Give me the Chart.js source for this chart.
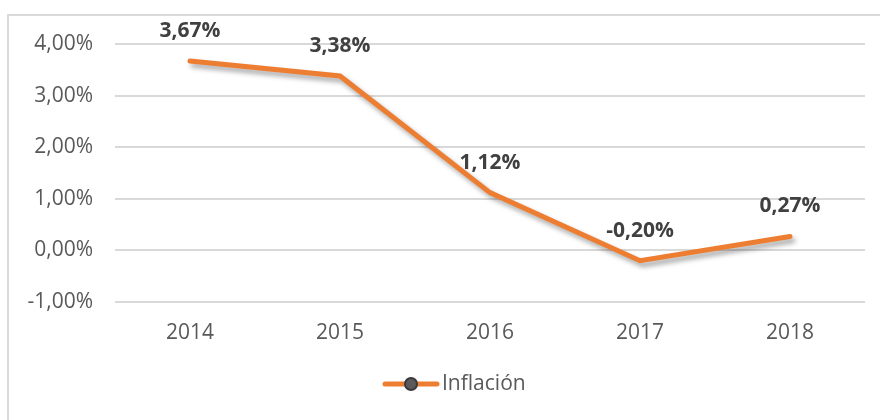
<!DOCTYPE html>
<html lang="es">
<head>
<meta charset="utf-8">
<script src="https://cdn.jsdelivr.net/npm/chart.js@4/dist/chart.umd.min.js"></script>
<style>
  html, body { margin: 0; padding: 0; background: #fff; overflow: hidden; }
  .wrap { position: relative; width: 880px; height: 420px; }
  .frame {
    position: absolute; left: 7px; top: 14px; width: 900px; height: 440px;
    border: 2px solid #d9d9d9; box-sizing: border-box; pointer-events: none;
  }
  canvas { position: absolute; left: 0; top: 0; }
</style>
</head>
<body>
<div class="wrap">
  <div class="frame"></div>
  <canvas id="chart" width="880" height="420"></canvas>
</div>
<script>
'use strict';

// ─── Data ─────────────────────────────────────────────────────────────────────

const years = ['2014', '2015', '2016', '2017', '2018'];
const inflacion = [3.67, 3.38, 1.12, -0.20, 0.27];
const seriesName = 'Inflación';

const ORANGE = '#ED7D31';
const TEXT = '#595959';
const FONT = '"Open Sans", "Liberation Sans", sans-serif';

const pctES = (v, d = 2) => v.toFixed(d).replace('.', ',') + '%';

// ─── Plugins ──────────────────────────────────────────────────────────────────

const lineShadow = {
  id: 'lineShadow',
  beforeDatasetDraw(chart) {
    const c = chart.ctx;
    c.save();
    c.shadowColor = 'rgba(0,0,0,0.35)';
    c.shadowBlur = 5;
    c.shadowOffsetX = 3;
    c.shadowOffsetY = 4;
  },
  afterDatasetDraw(chart) {
    chart.ctx.restore();
  },
};

const dataLabels = {
  id: 'dataLabels',
  afterDatasetsDraw(chart) {
    const c = chart.ctx;
    const meta = chart.getDatasetMeta(0);
    c.save();
    c.font = `bold 21px ${FONT}`;
    c.fillStyle = '#404040';
    c.textAlign = 'center';
    c.textBaseline = 'middle';
    meta.data.forEach((pt, i) => {
      c.fillText(pctES(inflacion[i]), pt.x, pt.y - 30);
    });
    c.restore();
  },
};

const legendBox = {
  id: 'legendBox',
  afterDraw(chart) {
    const c = chart.ctx;
    const y = 384;
    c.save();
    c.strokeStyle = ORANGE;
    c.lineWidth = 5;
    c.lineCap = 'round';
    c.beginPath();
    c.moveTo(385, y);
    c.lineTo(437, y);
    c.stroke();
    c.beginPath();
    c.arc(411, y, 6, 0, Math.PI * 2);
    c.fillStyle = '#5a5a5a';
    c.fill();
    c.lineWidth = 2;
    c.strokeStyle = '#3a3a3a';
    c.stroke();
    c.font = `21px ${FONT}`;
    c.fillStyle = TEXT;
    c.textAlign = 'left';
    c.textBaseline = 'middle';
    c.fillText(seriesName, 442, y);
    c.restore();
  },
};

// ─── Chart ────────────────────────────────────────────────────────────────────

new Chart(document.getElementById('chart').getContext('2d'), {
  type: 'line',
  data: {
    labels: years,
    datasets: [
      {
        label: seriesName,
        data: inflacion,
        borderColor: ORANGE,
        borderWidth: 5,
        borderCapStyle: 'round',
        borderJoinStyle: 'miter',
        pointRadius: 0,
        tension: 0,
        fill: false,
      },
    ],
  },
  options: {
    responsive: false,
    animation: false,
    layout: { padding: { top: 44, right: 15, bottom: 60, left: 0 } },
    plugins: {
      legend: { display: false },
      tooltip: { enabled: false },
    },
    scales: {
      x: {
        offset: true,
        grid: { display: false, drawTicks: false, offset: true },
        border: { display: false },
        ticks: { font: { family: FONT, size: 21 }, color: TEXT, padding: 18 },
        afterFit: (s) => { s.height = 58; },
      },
      y: {
        min: -1,
        max: 4,
        grid: { color: '#d9d9d9', lineWidth: 2, drawTicks: false },
        border: { display: false },
        ticks: {
          stepSize: 1,
          font: { family: FONT, size: 21 },
          color: TEXT,
          padding: 22,
          callback: (v) => pctES(v),
        },
        afterFit: (s) => { s.width = 115; },
      },
    },
  },
  plugins: [lineShadow, dataLabels, legendBox],
});
</script>
</body>
</html>
